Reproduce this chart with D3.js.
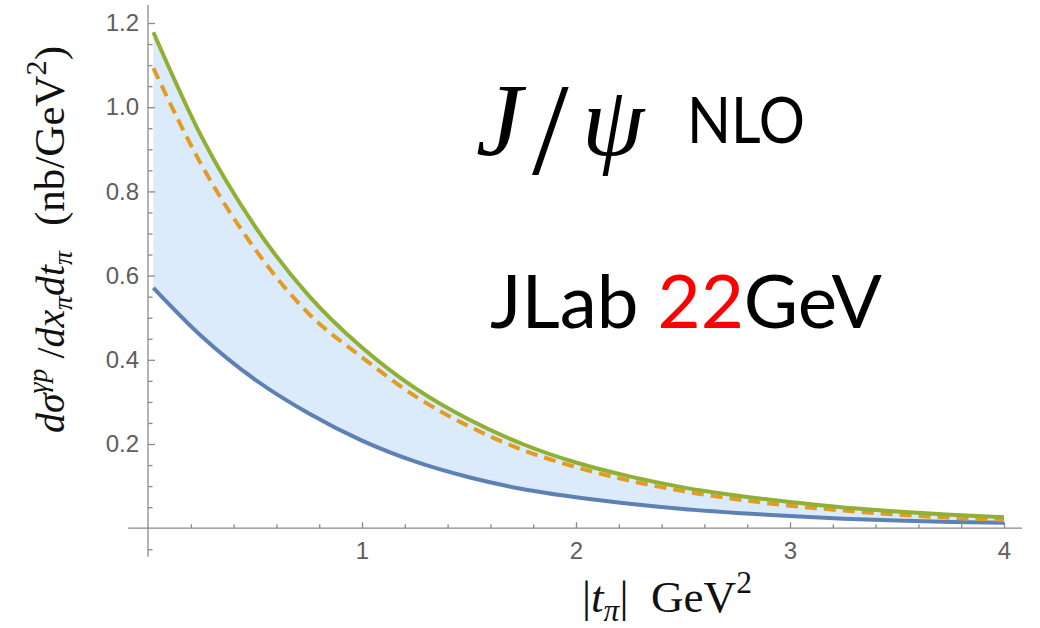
<!DOCTYPE html>
<html><head><meta charset="utf-8">
<script src="https://cdn.jsdelivr.net/npm/d3@7"></script>
<style>body{margin:0;background:#fff} svg{display:block}</style>
</head><body><svg id="c" width="1040" height="628"></svg>
<script>
// ---- data ----
const tValues = [0.025,0.25,0.5,0.75,1.0,1.25,1.5,1.75,2.0,2.25,2.5,2.75,3.0,3.25,3.5,3.75,4.0];
const upperGreen = [1.178,0.930,0.717,0.553,0.429,0.332,0.258,0.200,0.156,0.123,0.097,0.0775,0.062,0.0492,0.0398,0.0322,0.026];
const centralOrange = [1.093,0.863,0.663,0.510,0.406,0.313,0.242,0.186,0.145,0.113,0.088,0.0686,0.0534,0.042,0.0324,0.0249,0.0195];
const lowerBlue = [0.571,0.456,0.353,0.273,0.208,0.158,0.121,0.093,0.0733,0.058,0.0456,0.0363,0.0287,0.0227,0.0183,0.0147,0.013];
const xTickLabels = ["1","2","3","4"];
const yTickLabels = ["0.2","0.4","0.6","0.8","1.0","1.2"];

const svg = d3.select("#c");
const x = d3.scaleLinear().domain([0,4]).range([148,1004]);
const y = d3.scaleLinear().domain([0,1.2]).range([528.2,23]);

const rows = tValues.map((t,i)=>({t, g:upperGreen[i], o:centralOrange[i], b:lowerBlue[i]}));

// fill between bounds
svg.append("path").datum(rows)
  .attr("fill","#dcebfb")
  .attr("d", d3.area().curve(d3.curveMonotoneX).x(d=>x(d.t)).y0(d=>y(d.b)).y1(d=>y(d.g)));

// axes
const axisColor = "#8a8a8a";
const lblColor = "#5e5e5e";
svg.append("line").attr("x1",x(-0.093)).attr("x2",x(4.084)).attr("y1",y(0)).attr("y2",y(0))
  .attr("stroke",axisColor).attr("stroke-width",1.3);
svg.append("line").attr("x1",x(0)).attr("x2",x(0)).attr("y1",y(-0.068)).attr("y2",y(1.243))
  .attr("stroke",axisColor).attr("stroke-width",1.3);

const xMinor = d3.range(1,21).filter(i=>i%5!==0).map(i=>i*0.2);
const yMinor = d3.range(-1,25).filter(i=>i%4!==0).map(i=>i*0.05);

function styleAxis(g){
  g.select(".domain").remove();
  g.selectAll(".tick line").attr("stroke",axisColor).attr("stroke-width",1.3);
  g.selectAll(".tick text").attr("fill",lblColor).attr("font-family","'Liberation Sans', Arial, sans-serif").attr("font-size",24);
}
svg.append("g").attr("transform",`translate(0,${y(0)})`)
  .call(d3.axisBottom(x).tickValues(xMinor).tickSize(-4).tickFormat("")).call(styleAxis);
svg.append("g").attr("transform",`translate(0,${y(0)})`)
  .call(d3.axisBottom(x).tickValues(xTickLabels.map(Number)).tickSizeInner(-6).tickSizeOuter(0).tickPadding(14)
    .tickFormat((d,i)=>xTickLabels[i])).call(styleAxis);
svg.append("g").attr("transform",`translate(${x(0)},0)`)
  .call(d3.axisLeft(y).tickValues(yMinor).tickSize(-4.5).tickFormat("")).call(styleAxis);
svg.append("g").attr("transform",`translate(${x(0)},0)`)
  .call(d3.axisLeft(y).tickValues(yTickLabels.map(Number)).tickSizeInner(-7).tickSizeOuter(0).tickPadding(9)
    .tickFormat((d,i)=>yTickLabels[i])).call(styleAxis);

// curves
const line = key => d3.line().curve(d3.curveMonotoneX).x(d=>x(d.t)).y(d=>y(d[key]));
svg.append("path").datum(rows).attr("fill","none").attr("stroke","#5e81b5").attr("stroke-width",4).attr("d",line("b"));
svg.append("path").datum(rows).attr("fill","none").attr("stroke","#e19c24").attr("stroke-width",4)
  .attr("stroke-dasharray","12,7").attr("d",line("o"));
svg.append("path").datum(rows).attr("fill","none").attr("stroke","#8fb032").attr("stroke-width",4).attr("d",line("g"));

// rich text helper
function rich(textSel, parts, fs){
  textSel.selectAll("tspan").remove();
  let cur = 0;
  parts.forEach(p=>{
    const shift = p.sup ? -0.42*fs : (p.sub ? 0.2*fs : 0);
    textSel.append("tspan").text(p.t).attr("dy", shift-cur)
      .attr("font-size", (p.sup||p.sub) ? fs*0.7 : fs)
      .attr("font-style", p.it ? "italic" : "normal");
    cur = shift;
  });
}
function fitRich(textSel, parts, fs, width){
  rich(textSel, parts, fs);
  const w = textSel.node().getBBox().width;
  rich(textSel, parts, fs*width/w);
}
const serif = "'Liberation Serif', 'Times New Roman', serif";

// x label
const xl = svg.append("text").attr("x",582).attr("y",612).attr("fill","#111")
  .attr("font-family",serif).style("white-space","pre");
fitRich(xl, [{t:"|"},{t:"t",it:true},{t:"π",it:true,sub:true},{t:"|  GeV"},{t:"2",sup:true}], 34, 170);

// y label (two pieces: the derivative and the unit)
const yl1 = svg.append("text").attr("transform","translate(64,342) rotate(-90)").attr("text-anchor","middle")
  .attr("fill","#111").attr("font-family",serif).style("white-space","pre");
fitRich(yl1, [{t:"dσ",it:true},{t:"γp",it:true,sup:true},{t:" /"},{t:"dx",it:true},{t:"π",it:true,sub:true},
  {t:"dt",it:true},{t:"π",it:true,sub:true}], 32, 183);
const yl2 = svg.append("text").attr("transform","translate(64,136) rotate(-90)").attr("text-anchor","middle")
  .attr("fill","#111").attr("font-family",serif).style("white-space","pre");
fitRich(yl2, [{t:"(nb/GeV"},{t:"2",sup:true},{t:")"}], 32, 180);

// title annotations
svg.append("text").attr("x",476).attr("y",155).attr("font-family",serif).attr("font-style","italic")
  .attr("font-size",104).attr("fill","#000").text("J");
svg.append("text").attr("x",532).attr("y",174).attr("font-family",serif).attr("font-style","normal")
  .attr("font-size",132).attr("font-weight",300).attr("fill","#000").text("/");
svg.append("text").attr("x",582).attr("y",155).attr("font-family",serif).attr("font-style","italic")
  .attr("font-size",100).attr("fill","#000").text("ψ");
svg.append("text").attr("x",687).attr("y",143).attr("font-family","Lato, 'Open Sans', sans-serif")
  .attr("font-size",63).attr("fill","#000").attr("textLength",118).attr("lengthAdjust","spacingAndGlyphs").text("NLO");
const jl = svg.append("text").attr("x",490).attr("y",328).attr("font-family","Lato, 'Open Sans', sans-serif")
  .attr("font-size",74).attr("fill","#000").attr("textLength",392).attr("lengthAdjust","spacingAndGlyphs")
  .style("white-space","pre");
jl.append("tspan").text("JLab ");
jl.append("tspan").attr("fill","#ff0000").text("22");
jl.append("tspan").text("GeV");
</script></body></html>
